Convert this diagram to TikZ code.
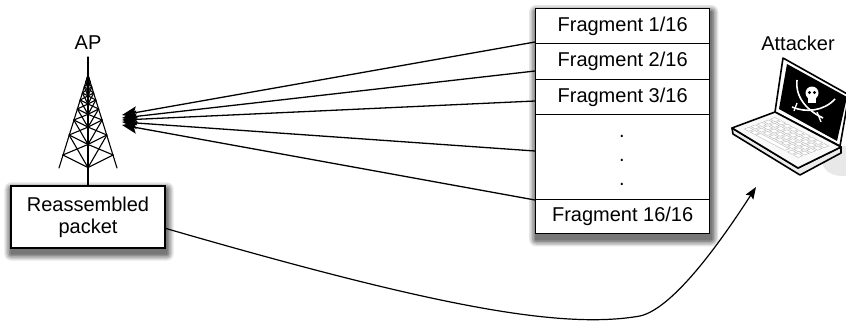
\documentclass[tikz,border=0pt]{standalone}
\usepackage{fontspec}
\setmainfont{Liberation Sans}
\usetikzlibrary{arrows.meta,calc,backgrounds}

% soft drop shadow behind a box, given its north west and south east corners
\newcommand\boxshadow[2]{%
  \foreach \e/\o in {7/0.10,5.5/0.12,4/0.14,2.5/0.16,1/0.18}{%
    \fill[black,opacity=\o,rounded corners=\e pt]
      ($#1+(1-\e,4-\e)$) rectangle ($#2+(1+\e,5+\e)$);
  }}

\begin{document}
\begin{tikzpicture}[x=1pt,y=-1pt,
  lbl/.style={font=\fontsize{20}{22}\selectfont,inner sep=0pt},
  rowbox/.style={draw,line width=1.3pt,fill=white,minimum width=174pt,
    inner sep=0pt,anchor=north west,font=\fontsize{20}{22}\selectfont},
  pktbox/.style={draw,line width=1.3pt,fill=white,minimum width=154pt,
    minimum height=62pt,align=center,inner sep=0pt,font=\fontsize{20}{22}\selectfont},
  fraglink/.style={line width=1.3pt,-{Stealth[length=15pt,width=12pt,inset=3pt]}},
  leak/.style={line width=1.2pt,-{Stealth[length=12pt,width=9pt,inset=2pt]}},
  towerline/.style={line width=1.1pt,line cap=round,line join=round},
  laptopline/.style={line width=1.6pt,line join=round},
  keycap/.style={fill=white,draw=gray!55,line width=0.4pt}]
\useasboundingbox (0,0) rectangle (846,325);

% ---------- labels ----------
\node[lbl] (aplabel) at (88,43) {AP};
\node[lbl] (atklabel) at (798,43) {Attacker};

% ---------- fragment stack ----------
\node[rowbox,minimum height=35pt] (f1) at (535,8) {Fragment 1/16};
\node[rowbox,minimum height=36pt] (f2) at (535,43) {Fragment 2/16};
\node[rowbox,minimum height=35pt] (f3) at (535,79) {Fragment 3/16};
\node[rowbox,minimum height=85pt] (fdots) at (535,114) {};
\node[rowbox,minimum height=34pt] (f16) at (535,199) {Fragment 16/16};
\foreach \y [count=\k] in {137,161,185}
  \node[lbl,anchor=base] (dot\k) at (622,\y) {.};

% ---------- reassembled packet ----------
\node[pktbox] (pkt) at (88,217) {Reassembled\\packet};

\begin{scope}[on background layer]
  \boxshadow{(f1.north west)}{(f16.south east)}
  \boxshadow{(pkt.north west)}{(pkt.south east)}
\end{scope}

% ---------- AP tower ----------
\coordinate (apex) at (88,75);
\coordinate (mast) at (88,57);
\draw[towerline] (mast) -- (apex);
\draw[towerline] (apex) -- (59,168);
\draw[towerline] (apex) -- (117,168);
\draw[towerline] (apex) -- (pkt.north);
% horizontal rings (seen from a corner) and cross bracing
\foreach \y/\w in {82/2.2,87/3.8,93/5.7,100/7.9,109/10.7,120/14.2,135/18.9,155/25.2}
  \draw[towerline] ({88-\w},\y) -- (88,{\y+0.5*\w}) -- ({88+\w},\y);
\foreach \ya/\wa/\yb/\wb in {75/0/82/2.2,82/2.2/87/3.8,87/3.8/93/5.7,93/5.7/100/7.9,
    100/7.9/109/10.7,109/10.7/120/14.2,120/14.2/135/18.9,135/18.9/155/25.2}{
  \draw[towerline] ({88-\wa},\ya) -- (88,{\yb+0.5*\wb});
  \draw[towerline] (88,{\ya+0.5*\wa}) -- ({88-\wb},\yb);
  \draw[towerline] ({88+\wa},\ya) -- (88,{\yb+0.5*\wb});
  \draw[towerline] (88,{\ya+0.5*\wa}) -- ({88+\wb},\yb);
}

% ---------- fragments sent to the AP ----------
\coordinate (s1) at (535,42);
\coordinate (s2) at (535,71);
\coordinate (s3) at (535,101);
\coordinate (s4) at (535,151);
\coordinate (s5) at (535,200);
\coordinate (rx1) at (122,115);
\coordinate (rx2) at (122,118);
\coordinate (rx3) at (122,120);
\coordinate (rx4) at (122,122);
\coordinate (rx5) at (122,125);
\foreach \k in {1,...,5}
  \draw[fraglink] (s\k) -- (rx\k);

% ---------- attacker laptop ----------
\fill[gray!18] (842,161) ellipse [x radius=20, y radius=15];
% lid and screen
\filldraw[fill=white,laptopline] (775,112) -- (783,58) -- (849,95) -- (840,146) -- cycle;
\fill[black] (779,109) -- (787,64) -- (847,97) -- (837,141) -- cycle;
% jolly roger
\fill[white] (812,93) circle [radius=6.5];
\fill[white] (808,96) rectangle (816,103);
\fill[black] (809.5,92.5) circle [radius=1.6];
\fill[black] (814.5,92.5) circle [radius=1.6];
\draw[white,line width=1.6pt] (797,80) .. controls (795,98) and (808,111) .. (823,118);
\draw[white,line width=1.6pt] (792,107) .. controls (806,113) and (824,111) .. (835,99);
\draw[white,line width=1.3pt] (817,112) -- (821,122);
\draw[white,line width=1.3pt] (797,103) -- (794,111);
% base
\filldraw[fill=gray!15,laptopline] (732,128) -- (733,134) -- (800,175) -- (841,153)
  -- (841,147) -- (798,168) -- cycle;
\filldraw[fill=gray!5,laptopline] (775,112) -- (732,128) -- (798,168) -- (841,147) -- cycle;
% keys
\foreach \i in {0,...,8}{
  \foreach \j in {0,...,4}{
    \pgfmathsetmacro\cu{0.08+0.84*(\i+0.5)/9}
    \pgfmathsetmacro\cv{0.12+0.76*(\j+0.5)/5}
    \pgfmathsetmacro\cx{775+66*\cu-43*\cv}
    \pgfmathsetmacro\cy{112+35*\cu+16*\cv}
    \pgfmathtruncatemacro\isbar{(\j==4)&&(\i>1)&&(\i<7)}
    \ifnum\isbar=0
      \filldraw[keycap] (\cx,\cy) ++(0.09,-2.03) -- ++(4.4,2.36) -- ++(-4.58,1.7)
        -- ++(-4.4,-2.36) -- cycle;
    \fi
  }
}
% space bar
\pgfmathsetmacro\su{0.08+0.84*2.05/9}
\pgfmathsetmacro\sv{0.12+0.76*4.5/5}
\pgfmathsetmacro\sx{775+66*\su-43*\sv}
\pgfmathsetmacro\sy{112+35*\su+16*\sv}
\filldraw[keycap] (\sx,\sy) ++(2.29,-0.85) -- ++(28.7,15.2) -- ++(-4.58,1.7)
  -- ++(-28.7,-15.2) -- cycle;
\coordinate (atk) at (756,187);

% ---------- reassembled packet leaks to the attacker ----------
\coordinate (pktout) at ($(pkt.south east)!0.32!(pkt.north east)$);
\draw[leak] (pktout) .. controls (430,305) and (560,330) .. (640,316)
  .. controls (675,308) and (725,235) .. (atk);

\end{tikzpicture}
\end{document}
